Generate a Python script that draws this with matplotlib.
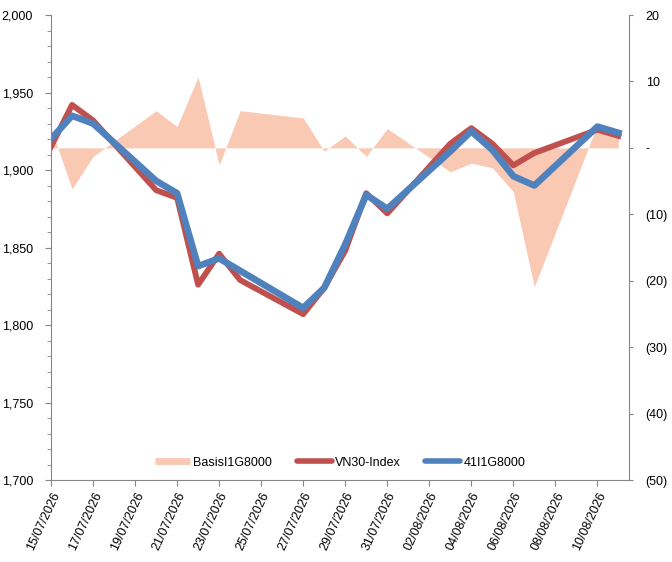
import pandas as pd
import matplotlib.pyplot as plt
import matplotlib.dates as mdates
from matplotlib.lines import Line2D
from matplotlib.ticker import MultipleLocator, FuncFormatter

plt.rcParams['font.family'] = ['Liberation Sans', 'DejaVu Sans']

dates = pd.to_datetime([
    '2026-07-15', '2026-07-16', '2026-07-17', '2026-07-20', '2026-07-21',
    '2026-07-22', '2026-07-23', '2026-07-24', '2026-07-27', '2026-07-28',
    '2026-07-29', '2026-07-30', '2026-07-31', '2026-08-03', '2026-08-04',
    '2026-08-05', '2026-08-06', '2026-08-07', '2026-08-10', '2026-08-11',
])
vn30 = [1915, 1942, 1932, 1887, 1882, 1826, 1846, 1829, 1807, 1824,
        1848, 1885, 1872, 1917, 1927, 1917, 1903, 1911, 1926, 1922]
fut = [1920, 1935, 1930, 1893, 1885, 1838, 1843, 1835, 1811, 1824,
       1852, 1884, 1875, 1912, 1925, 1913, 1896, 1890, 1928, 1924]
basis = [3.0, -6.2, -1.3, 5.6, 3.2, 10.7, -2.6, 5.6, 4.5, -0.5,
         1.8, -1.3, 2.9, -3.6, -2.3, -3.0, -6.6, -20.9, 3.5, 2.2]

red = '#C0504D'
blue = '#4F81BD'
area = '#FAC9B4'
grey = '#868686'

fig = plt.figure(figsize=(6.72, 5.62), dpi=100)
ax = fig.add_axes([0.0759, 0.1459, 0.860, 0.8274])
ax2 = ax.twinx()
ax.set_zorder(ax2.get_zorder() + 1)
ax.patch.set_visible(False)

ax2.fill_between(dates, basis, 0, color=area, lw=0)
ax.plot(dates, vn30, color=red, lw=4.2)
ax.plot(dates, fut, color=blue, lw=4.8)

ax.set_ylim(1700, 2000)
ax.yaxis.set_major_locator(MultipleLocator(50))
ax.yaxis.set_minor_locator(MultipleLocator(10))
ax.yaxis.set_major_formatter(FuncFormatter(lambda v, p: f'{v:,.0f}'))

ax2.set_ylim(-50, 20)
ax2.yaxis.set_major_locator(MultipleLocator(10))


def paren(v, p):
    if abs(v) < 1e-9:
        return '-'
    if v < 0:
        return f'({-v:.0f})'
    return f'{v:.0f}'


ax2.yaxis.set_major_formatter(FuncFormatter(paren))

ax.set_xlim(pd.Timestamp('2026-07-15'), pd.Timestamp('2026-08-11 12:00'))
ax.set_xticks(pd.date_range('2026-07-15', '2026-08-10', freq='2D'))
ax.xaxis.set_major_formatter(mdates.DateFormatter('%d/%m/%Y'))
plt.setp(ax.get_xticklabels(), rotation=65, ha='right', rotation_mode='anchor')

for a in (ax, ax2):
    for s in a.spines.values():
        s.set_color(grey)
    a.spines['top'].set_visible(False)
    a.tick_params(which='both', color=grey, labelsize=9, length=4)
    a.tick_params(which='minor', length=3)
ax.tick_params(axis='y', pad=9)
ax2.tick_params(axis='y', pad=9, length=3)
ax.spines['right'].set_visible(False)
ax2.spines['left'].set_visible(False)
ax2.spines['bottom'].set_visible(False)

handles = [
    Line2D([], [], color=area, lw=5, solid_capstyle='butt'),
    Line2D([], [], color=red, lw=4, solid_capstyle='round'),
    Line2D([], [], color=blue, lw=4, solid_capstyle='round'),
]
ax.legend(handles, ['BasisI1G8000', 'VN30-Index', '41I1G8000'],
          loc='lower center', bbox_to_anchor=(0.5, 0.0), ncol=3,
          frameon=False, fontsize=9, handlelength=2.8, columnspacing=2.0,
          handletextpad=0.25)

fig.savefig('out.png', dpi=100)
